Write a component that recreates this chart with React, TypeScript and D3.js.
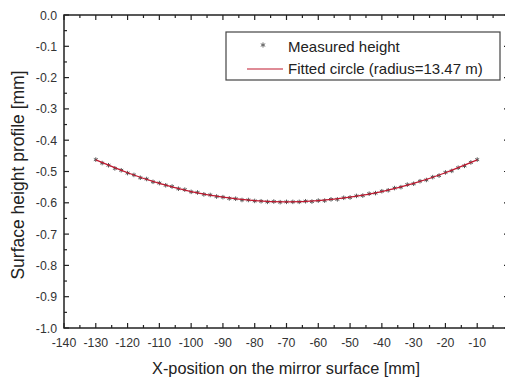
import React, { useEffect, useRef } from "react";
import * as d3 from "d3";

const measuredX = [
  -130, -128, -126, -124, -122, -120, -118, -116, -114, -112, -110, -108, -106, -104, -102,
  -100, -98, -96, -94, -92, -90, -88, -86, -84, -82, -80, -78, -76, -74, -72, -70,
  -68, -66, -64, -62, -60, -58, -56, -54, -52, -50, -48, -46, -44, -42, -40, -38,
  -36, -34, -32, -30, -28, -26, -24, -22, -20, -18, -16, -14, -12, -10,
];
const measuredY = [
  -0.462, -0.473, -0.480, -0.490, -0.496, -0.505, -0.511, -0.520, -0.524, -0.533, -0.537, -0.544, -0.548, -0.555, -0.558,
  -0.565, -0.567, -0.573, -0.575, -0.580, -0.582, -0.586, -0.587, -0.591, -0.591, -0.594, -0.595, -0.597, -0.596, -0.598, -0.597,
  -0.597, -0.597, -0.595, -0.596, -0.593, -0.593, -0.589, -0.589, -0.584, -0.583, -0.578, -0.577, -0.571, -0.569, -0.563, -0.560,
  -0.553, -0.550, -0.542, -0.539, -0.531, -0.527, -0.518, -0.513, -0.503, -0.498, -0.488, -0.482, -0.471, -0.462,
];
const fitX = [-130, -120, -110, -100, -90, -80, -70, -60, -50, -40, -30, -20, -10];
const fitY = [-0.463, -0.504, -0.538, -0.564, -0.582, -0.593, -0.597, -0.593, -0.582, -0.564, -0.538, -0.504, -0.463];

const xTicks = [-140, -130, -120, -110, -100, -90, -80, -70, -60, -50, -40, -30, -20, -10, 0];
const yTicks = [0.0, -0.1, -0.2, -0.3, -0.4, -0.5, -0.6, -0.7, -0.8, -0.9, -1.0];
const legendLabels = ["Measured height", "Fitted circle (radius=13.47 m)"];
const xTitle = "X-position on the mirror surface [mm]";
const yTitle = "Surface height profile [mm]";

const W = 505;
const H = 382;
const FONT = "'Liberation Sans', Arial, sans-serif";
const RED = "#c0182f";

export default function App() {
  const ref = useRef<SVGSVGElement | null>(null);

  useEffect(() => {
    const svg = d3.select(ref.current);
    svg.selectAll("*").remove();
    const x = d3.scaleLinear().domain([-140, 0]).range([64, 509]);
    const y = d3.scaleLinear().domain([-1, 0]).range([328, 15]);
    const [x0, x1] = x.range();
    const [yb, yt] = y.range();

    const g = svg.append("g");
    const tickColor = "#222";

    const xMinor = d3.range(-135, 0, 10);
    const yMinor = d3.range(-0.95, 0, 0.1);

    const tickG = g.append("g").attr("stroke", tickColor).attr("stroke-width", 1.2);
    xTicks.forEach((t) => {
      tickG.append("line").attr("x1", x(t)).attr("x2", x(t)).attr("y1", yb).attr("y2", yb - 5);
      tickG.append("line").attr("x1", x(t)).attr("x2", x(t)).attr("y1", yt).attr("y2", yt + 5);
    });
    xMinor.forEach((t) => {
      tickG.append("line").attr("x1", x(t)).attr("x2", x(t)).attr("y1", yb).attr("y2", yb - 3);
      tickG.append("line").attr("x1", x(t)).attr("x2", x(t)).attr("y1", yt).attr("y2", yt + 3);
    });
    yTicks.forEach((t) => {
      tickG.append("line").attr("x1", x0).attr("x2", x0 + 5).attr("y1", y(t)).attr("y2", y(t));
      tickG.append("line").attr("x1", x1).attr("x2", x1 - 5).attr("y1", y(t)).attr("y2", y(t));
    });
    yMinor.forEach((t) => {
      tickG.append("line").attr("x1", x0).attr("x2", x0 + 3).attr("y1", y(t)).attr("y2", y(t));
      tickG.append("line").attr("x1", x1).attr("x2", x1 - 3).attr("y1", y(t)).attr("y2", y(t));
    });

    g.append("rect")
      .attr("x", x0)
      .attr("y", yt)
      .attr("width", x1 - x0)
      .attr("height", yb - yt)
      .attr("fill", "none")
      .attr("stroke", "#222")
      .attr("stroke-width", 1.5);

    xTicks.filter((t) => t < 0).forEach((t) => {
      g.append("text")
        .attr("x", x(t))
        .attr("y", yb + 19)
        .attr("text-anchor", "middle")
        .attr("font-family", FONT)
        .attr("font-size", 12.3)
        .attr("fill", "#333")
        .text(String(t));
    });
    yTicks.forEach((t) => {
      g.append("text")
        .attr("x", x0 - 7)
        .attr("y", y(t) + 4.5)
        .attr("text-anchor", "end")
        .attr("font-family", FONT)
        .attr("font-size", 12.3)
        .attr("fill", "#333")
        .text(t.toFixed(1));
    });

    g.append("text")
      .attr("x", 286)
      .attr("y", 374)
      .attr("text-anchor", "middle")
      .attr("font-family", FONT)
      .attr("font-size", 16.3)
      .attr("fill", "#222")
      .text(xTitle);
    g.append("text")
      .attr("transform", `translate(24,175) rotate(-90)`)
      .attr("text-anchor", "middle")
      .attr("font-family", FONT)
      .attr("font-size", 17.5)
      .attr("fill", "#222")
      .text(yTitle);

    const star = d3.symbol().type(d3.symbolAsterisk).size(14);
    const data = measuredX.map((v, i) => [v, measuredY[i]] as [number, number]);
    g.append("g")
      .selectAll("path")
      .data(data)
      .join("path")
      .attr("d", star)
      .attr("transform", (d) => `translate(${x(d[0])},${y(d[1])})`)
      .attr("fill", "none")
      .attr("stroke", "#555")
      .attr("stroke-width", 1);

    const fit = fitX.map((v, i) => [v, fitY[i]] as [number, number]);
    g.append("path")
      .datum(fit)
      .attr("d", d3.line<[number, number]>().x((d) => x(d[0])).y((d) => y(d[1])).curve(d3.curveNatural))
      .attr("fill", "none")
      .attr("stroke", RED)
      .attr("stroke-width", 1.3);

    const lg = g.append("g");
    lg.append("rect")
      .attr("x", 226)
      .attr("y", 32)
      .attr("width", 274)
      .attr("height", 48)
      .attr("fill", "white")
      .attr("stroke", "#444")
      .attr("stroke-width", 1.2);
    lg.append("path")
      .attr("d", d3.symbol().type(d3.symbolAsterisk).size(18)())
      .attr("transform", "translate(263,45)")
      .attr("fill", "none")
      .attr("stroke", "#666");
    lg.append("line")
      .attr("x1", 247)
      .attr("x2", 283)
      .attr("y1", 69)
      .attr("y2", 69)
      .attr("stroke", RED)
      .attr("stroke-width", 1.2);
    legendLabels.forEach((l, i) => {
      lg.append("text")
        .attr("x", 288)
        .attr("y", 52 + i * 21.5)
        .attr("font-family", FONT)
        .attr("font-size", 15)
        .attr("fill", "#222")
        .text(l);
    });
  }, []);

  return (
    <svg
      ref={ref}
      width={W}
      height={H}
      style={{ position: "absolute", left: 0, top: 0, background: "white" }}
    />
  );
}
